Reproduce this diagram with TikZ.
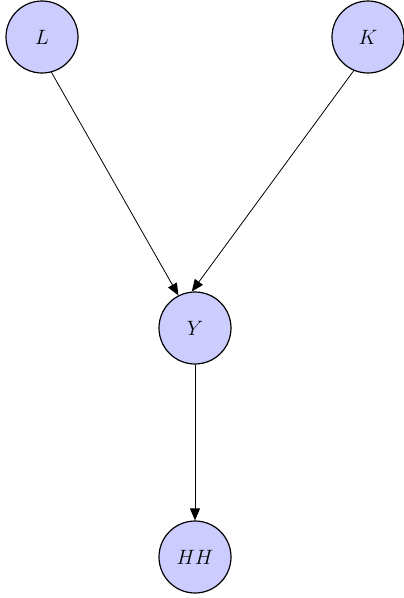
\documentclass[tikz,border=0pt]{standalone}
\usetikzlibrary{arrows.meta}
\definecolor{nodefill}{RGB}{204,204,255}
\tikzset{
  var/.style={circle, draw=black, line width=1.2pt, fill=nodefill, minimum size=72pt, inner sep=0pt, font=\huge},
  edge/.style={-{Triangle[length=12pt,width=10pt]}, line width=0.8pt}
}
\begin{document}
\begin{tikzpicture}[x=1pt,y=-1pt]
\useasboundingbox (0,0) rectangle (404,598);
\node[var] (L) at (42,37) {$L$};
\node[var] (K) at (368,37) {$K$};
\node[var] (Y) at (195,328) {$Y$};
\node[var] (HH) at (195,557) {$HH$};
\draw[edge] (L.-75) -- (Y.117);
\draw[edge] (K.-113) -- (Y.95);
\draw[edge] (Y) -- (HH);
\end{tikzpicture}
\end{document}
